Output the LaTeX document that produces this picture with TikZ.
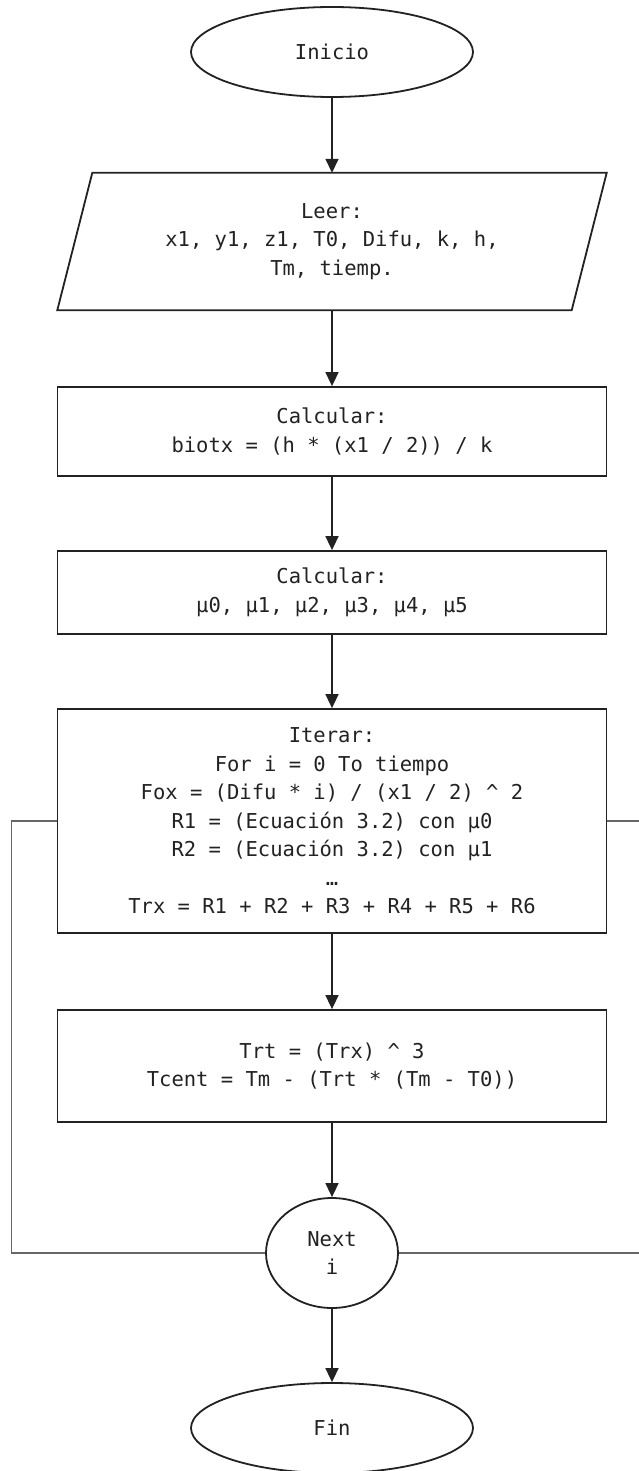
\documentclass[tikz,border=0pt]{standalone}
\usepackage{fontspec}
\newfontfamily\flowmono{DejaVu Sans Mono}
\usetikzlibrary{arrows.meta,shapes.geometric,calc}

\definecolor{ink}{HTML}{222222}
\definecolor{loopgray}{HTML}{666666}

\tikzset{
  flowtext/.style={font=\flowmono\fontsize{20.5}{28.5}\selectfont, text=ink, align=center, inner sep=0pt},
  terminal/.style={flowtext, ellipse, draw=ink, line width=1.8pt, minimum width=282pt, minimum height=90pt},
  process/.style={flowtext, rectangle, draw=ink, line width=1.8pt, minimum width=549pt},
  ioframe/.style={flowtext, rectangle, minimum width=549pt, minimum height=137pt},
  connector/.style={flowtext, ellipse, draw=ink, line width=1.8pt, minimum width=132pt, minimum height=110pt},
  flow/.style={draw=ink, line width=1.6pt, -{Triangle[width=13pt,length=14pt]}},
  loopline/.style={draw=loopgray, line width=1.1pt}
}

\begin{document}
\begin{tikzpicture}[x=1pt,y=-1pt]
  \clip (0,0) rectangle (639,1471);
  \fill[white] (0,0) rectangle (639,1471);

  % nodes of the flowchart
  \node[terminal] (inicio) at (332,52) {Inicio};
  \node[ioframe] (leer) at (332,241.5) {Leer:\\x1, y1, z1, T0, Difu, k, h,\\Tm, tiemp.};
  \draw[ink, line width=1.8pt]
    ($(leer.north west)+(35,0)$) -- (leer.north east)
    -- ($(leer.south east)+(-35,0)$) -- (leer.south west) -- cycle;
  \node[process, minimum height=89pt] (calc1) at (332,431.5) {Calcular:\\biotx = (h * (x1 / 2)) / k};
  \node[process, minimum height=83pt] (calc2) at (332,592.5) {Calcular:\\μ0, μ1, μ2, μ3, μ4, μ5};
  \node[process, minimum height=224pt] (iter) at (332,821)
    {Iterar:\\For i = 0 To tiempo\\Fox = (Difu * i) / (x1 / 2) \^{} 2\\R1 = (Ecuación 3.2) con μ0\\R2 = (Ecuación 3.2) con μ1\\…\\Trx = R1 + R2 + R3 + R4 + R5 + R6};
  \node[process, minimum height=112pt] (tcent) at (332,1066)
    {Trt = (Trx) \^{} 3\\Tcent = Tm - (Trt * (Tm - T0))};
  \node[connector] (next) at (332,1253) {Next\\i};
  \node[terminal] (fin) at (332,1428) {Fin};

  % main flow
  \draw[flow] (inicio) -- (leer.north);
  \draw[flow] (leer.south) -- (calc1);
  \draw[flow] (calc1) -- (calc2);
  \draw[flow] (calc2) -- (iter);
  \draw[flow] (iter) -- (tcent);
  \draw[flow] (tcent) -- (next);
  \draw[flow] (next) -- (fin);

  % loop lines joining the iteration box to Next i
  \draw[loopline] (iter.west) -- ++(-45.5,0) |- (next.west);
  \draw[loopline] (iter.east) -- ++(45,0) |- (next.east);
\end{tikzpicture}
\end{document}
